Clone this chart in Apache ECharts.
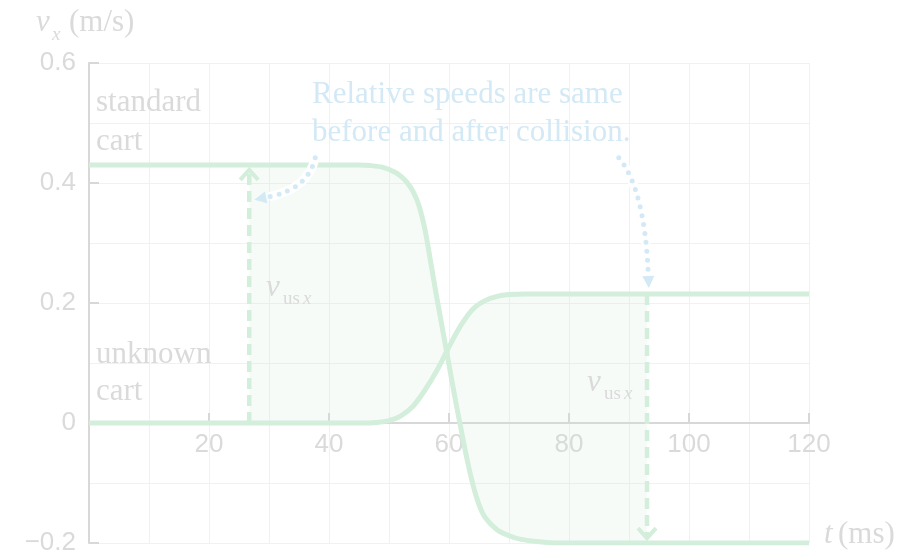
<!DOCTYPE html>
<html>
<head>
<meta charset="utf-8">
<script src="https://cdn.jsdelivr.net/npm/echarts@6/dist/echarts.min.js"></script>
<style>
  html, body { margin: 0; padding: 0; background: #fff; }
  #chart { width: 905px; height: 552px; }
</style>
</head>
<body>
<div id="chart"></div>
<script>
// velocity (m/s) against time (ms)
const standardT = [0, 40, 45, 47, 49, 51, 52, 53, 54, 55, 56, 57, 58, 59, 60, 61, 62, 63, 64, 65, 66, 68, 70, 72, 75, 78, 120];
const standardV = [0.43, 0.43, 0.43, 0.429, 0.426, 0.418, 0.411, 0.401, 0.386, 0.362, 0.322, 0.265, 0.207, 0.152, 0.097, 0.042, -0.01, -0.06, -0.103, -0.136, -0.157, -0.178, -0.188, -0.194, -0.198, -0.2, -0.2];
const unknownT = [0, 40, 45, 48, 50, 52, 54, 56, 58, 60, 62, 64, 66, 68, 70, 73, 120];
const unknownV = [0, 0, 0, 0.001, 0.004, 0.012, 0.028, 0.055, 0.088, 0.127, 0.163, 0.19, 0.204, 0.211, 0.214, 0.215, 0.215];

// the two dashed "v_us x" arrows (time, start value, end value)
const arrowT = [26.7, 93];
const arrowFrom = [0, 0.215];
const arrowTo = [0.422, -0.192];

// dotted pointers from the note to the arrows
const noteStartT = [37.7, 88.3], noteStartV = [0.442, 0.442];
const noteBendT = [36.5, 92.6], noteBendV = [0.39, 0.39];
const noteEndT = [30.0, 93.2], noteEndV = [0.377, 0.25];

const green = '#d3eedb';
const fillGreen = 'rgba(200, 232, 210, 0.16)';
const blue = '#d3e9f5';
const gray = '#dadada';
const axisGray = '#d8d8d8';
const gridGray = '#f1f1f1';
const serif = '"Liberation Serif", "Times New Roman", serif';
const sans = '"Liberation Sans", Arial, sans-serif';

// linear lookup on a curve, only used for where the shading starts and stops
function valueAt(ts, vs, t) {
  for (let i = 1; i < ts.length; i++) {
    if (t <= ts[i]) {
      const k = (t - ts[i - 1]) / (ts[i] - ts[i - 1]);
      return vs[i - 1] + k * (vs[i] - vs[i - 1]);
    }
  }
  return vs[vs.length - 1];
}

const myChart = echarts.init(document.getElementById('chart'));

function txt(text, x, y, size, color, style) {
  return {
    type: 'text', z: 100, silent: true,
    style: {
      text: text, x: x, y: y, fill: color,
      font: (style || 'normal') + ' ' + size + 'px ' + serif,
      align: 'left', verticalAlign: 'middle'
    }
  };
}

// grid is 480px tall for 0.8 m/s, so zero sits 120px above the bottom edge
const zeroOffset = -120;

const option = {
  animation: false,
  grid: { left: 89, right: 96, top: 63, bottom: 9, containLabel: false, outerBoundsMode: 'none' },
  xAxis: {
    type: 'value', min: 0, max: 120, interval: 20,
    position: 'bottom', offset: zeroOffset,
    axisLine: { onZero: false, lineStyle: { color: axisGray, width: 2 } },
    axisTick: { inside: true, length: 10, lineStyle: { color: axisGray, width: 2 } },
    axisLabel: {
      margin: 9, color: gray, fontSize: 26, fontFamily: sans,
      showMinLabel: true, showMaxLabel: true,
      formatter: function (v) { return v === 0 ? '' : String(v); }
    },
    splitLine: { show: true, lineStyle: { color: gridGray, width: 1 } },
    minorTick: { show: false, splitNumber: 2 },
    minorSplitLine: { show: true, lineStyle: { color: gridGray, width: 1 } }
  },
  yAxis: {
    type: 'value', min: -0.2, max: 0.6, interval: 0.2,
    axisLine: { show: true, onZero: false, lineStyle: { color: axisGray, width: 2 } },
    axisTick: { show: true, inside: true, length: 10, lineStyle: { color: axisGray, width: 2 } },
    axisLabel: {
      margin: 13, color: gray, fontSize: 26, fontFamily: sans,
      showMinLabel: true, showMaxLabel: true,
      formatter: function (v) {
        if (Math.abs(v) < 1e-9) return '0';
        return (v < 0 ? '\u2212' : '') + Math.abs(v).toFixed(1);
      }
    },
    splitLine: { show: true, lineStyle: { color: gridGray, width: 1 } },
    minorTick: { show: false, splitNumber: 2 },
    minorSplitLine: { show: true, lineStyle: { color: gridGray, width: 1 } }
  },
  series: [
    {
      // shading between the curves, from the first arrow to the second
      type: 'custom', z: 1, silent: true,
      data: [[arrowT[0], 0]],
      renderItem: function (params, api) {
        const t0 = arrowT[0], t1 = arrowT[1];
        const pts = [api.coord([t0, valueAt(standardT, standardV, t0)])];
        standardT.forEach(function (t, i) {
          if (t > t0 && t < t1) pts.push(api.coord([t, standardV[i]]));
        });
        pts.push(api.coord([t1, valueAt(standardT, standardV, t1)]));
        pts.push(api.coord([t1, valueAt(unknownT, unknownV, t1)]));
        for (let i = unknownT.length - 1; i >= 0; i--) {
          if (unknownT[i] > t0 && unknownT[i] < t1) pts.push(api.coord([unknownT[i], unknownV[i]]));
        }
        pts.push(api.coord([t0, valueAt(unknownT, unknownV, t0)]));
        return { type: 'polygon', shape: { points: pts }, style: { fill: fillGreen, stroke: 'none' } };
      }
    },
    {
      name: 'standard cart', type: 'line', z: 2, silent: true,
      data: standardT.map(function (t, i) { return [t, standardV[i]]; }),
      symbol: 'none', smooth: 0.3,
      lineStyle: { color: green, width: 5 }
    },
    {
      name: 'unknown cart', type: 'line', z: 2, silent: true,
      data: unknownT.map(function (t, i) { return [t, unknownV[i]]; }),
      symbol: 'none', smooth: 0.3,
      lineStyle: { color: green, width: 5 }
    },
    {
      // dashed arrows
      type: 'custom', z: 3, silent: true,
      data: arrowT.map(function (t, i) { return [t, arrowFrom[i]]; }),
      renderItem: function (params, api) {
        const i = params.dataIndex;
        const a = api.coord([arrowT[i], arrowFrom[i]]);
        const b = api.coord([arrowT[i], arrowTo[i]]);
        const dir = b[1] < a[1] ? 1 : -1;
        return {
          type: 'group', children: [
            { type: 'line', shape: { x1: a[0], y1: a[1], x2: b[0], y2: b[1] + dir * 2 },
              style: { stroke: green, lineWidth: 4.5, lineDash: [11, 6], fill: 'none' } },
            { type: 'polyline', shape: { points: [[b[0] - 9, b[1] + dir * 10], [b[0], b[1]], [b[0] + 9, b[1] + dir * 10]] },
              style: { stroke: green, lineWidth: 4, fill: 'none' } }
          ]
        };
      }
    },
    {
      // dotted pointers from the note
      type: 'custom', z: 4, silent: true,
      data: noteStartT.map(function (t, i) { return [t, noteStartV[i]]; }),
      renderItem: function (params, api) {
        const i = params.dataIndex;
        const p0 = api.coord([noteStartT[i], noteStartV[i]]);
        const c = api.coord([noteBendT[i], noteBendV[i]]);
        const p1 = api.coord([noteEndT[i], noteEndV[i]]);
        const dx = p1[0] - c[0], dy = p1[1] - c[1];
        const len = Math.sqrt(dx * dx + dy * dy);
        const ux = dx / len, uy = dy / len;
        const base = [p1[0] + ux * 3, p1[1] + uy * 3];
        const tip = [base[0] + ux * 12, base[1] + uy * 12];
        const curve = { x1: p0[0], y1: p0[1], cpx1: c[0], cpy1: c[1], x2: p1[0], y2: p1[1] };
        return {
          type: 'group', children: [
            { type: 'bezierCurve', shape: curve, style: { stroke: '#fff', lineWidth: 9, fill: 'none' } },
            { type: 'bezierCurve', shape: curve,
              style: { stroke: blue, lineWidth: 5, lineDash: [0, 9], lineCap: 'round', fill: 'none' } },
            { type: 'polygon', shape: { points: [tip, [base[0] - uy * 6, base[1] + ux * 6], [base[0] + uy * 6, base[1] - ux * 6]] },
              style: { fill: blue, stroke: 'none' } }
          ]
        };
      }
    }
  ],
  graphic: [
    // axis titles
    txt('v', 36, 23, 31, gray, 'italic'),
    txt('x', 52, 35, 19, gray, 'italic'),
    txt('(m/s)', 69, 23, 31, gray),
    txt('t', 824, 535, 31, gray, 'italic'),
    txt('(ms)', 838, 535, 31, gray),
    // curve names
    txt('standard', 96, 103, 31, gray),
    txt('cart', 96, 142, 31, gray),
    txt('unknown', 96, 355, 31, gray),
    txt('cart', 96, 392, 31, gray),
    // note
    txt('Relative speeds are same', 312, 95, 31, blue),
    txt('before and after collision.', 312, 133, 31, blue),
    // v_us x labels
    txt('v', 266, 288, 31, gray, 'italic'),
    txt('us', 283, 299, 19, gray),
    txt('x', 303, 299, 19, gray, 'italic'),
    txt('v', 587, 383, 31, gray, 'italic'),
    txt('us', 604, 394, 19, gray),
    txt('x', 624, 394, 19, gray, 'italic')
  ]
};

myChart.setOption(option);
</script>
</body>
</html>
